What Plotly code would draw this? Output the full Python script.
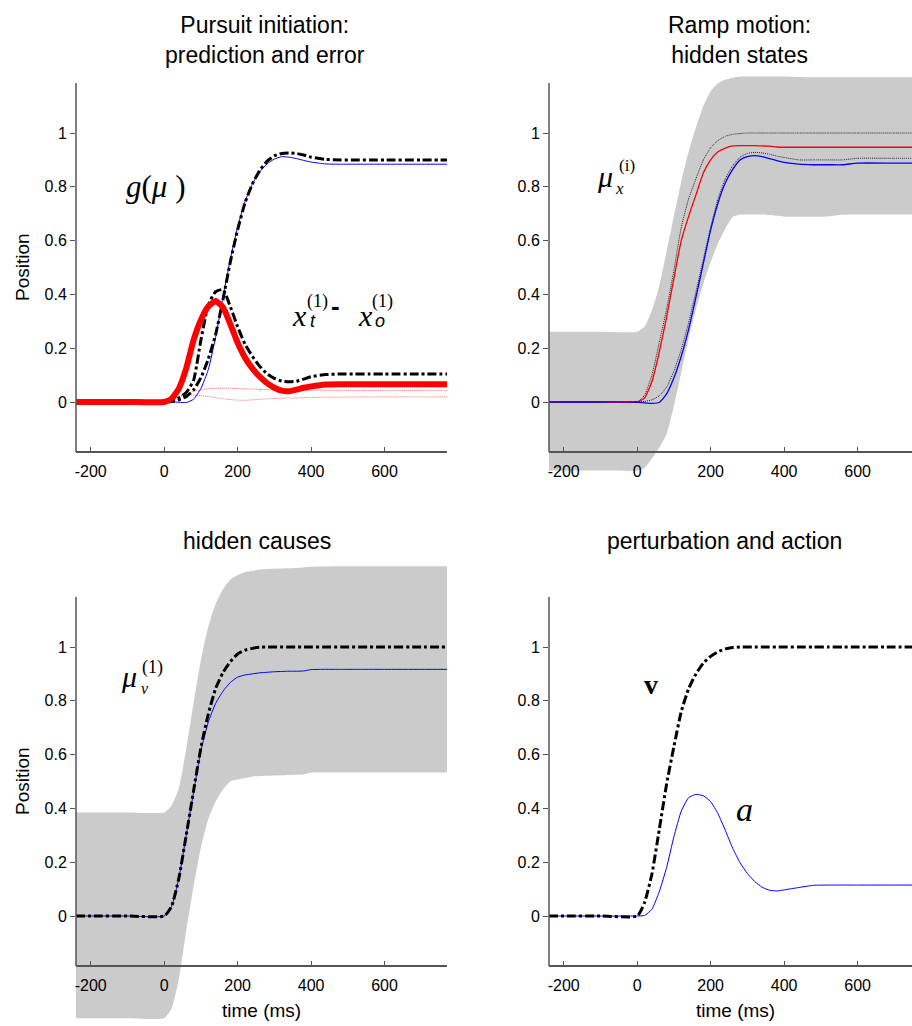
import plotly.graph_objects as go

# ---------------- data (time in ms, values in position units) ----------------
T = [-240, -200, -100, 0, 20, 40, 60, 80, 100, 120, 140, 160, 180, 200, 220, 240,
     260, 280, 300, 320, 340, 360, 380, 400, 440, 480, 520, 560, 600, 700, 770]

# Panel 1: pursuit initiation, prediction and error
p1_pred = [0, 0, 0, 0, 0.002, 0.008, 0.02, 0.045, 0.09, 0.16, 0.25, 0.38, 0.52, 0.64, 0.74, 0.81,
           0.86, 0.895, 0.915, 0.924, 0.926, 0.924, 0.918, 0.91, 0.902, 0.90, 0.90, 0.90, 0.90, 0.90, 0.90]
p1_obs = [0, 0, 0, 0, 0, -0.001, -0.002, 0.01, 0.05, 0.12, 0.24, 0.39, 0.53, 0.65, 0.745, 0.81,
          0.855, 0.885, 0.903, 0.912, 0.91, 0.905, 0.898, 0.892, 0.885, 0.884, 0.884, 0.884, 0.884, 0.884, 0.884]
p1_bump = [0, 0, 0, 0, 0.005, 0.015, 0.035, 0.08, 0.23, 0.36, 0.41, 0.418, 0.355, 0.28, 0.215, 0.17,
           0.133, 0.105, 0.088, 0.078, 0.075, 0.077, 0.085, 0.094, 0.102, 0.104, 0.104, 0.104, 0.104, 0.104, 0.104]
p1_err = [0, 0, 0, 0, 0.012, 0.05, 0.125, 0.23, 0.305, 0.355, 0.375, 0.352, 0.29, 0.22, 0.165, 0.125,
          0.094, 0.07, 0.053, 0.042, 0.04, 0.046, 0.053, 0.058, 0.065, 0.066, 0.066, 0.066, 0.066, 0.066, 0.066]
p1_err_a = [0, 0, 0, 0, 0.008, 0.02, 0.03, 0.04, 0.045, 0.05, 0.051, 0.052, 0.051, 0.05, 0.049, 0.048,
            0.047, 0.046, 0.045, 0.045, 0.045, 0.044, 0.044, 0.044, 0.044, 0.043, 0.043, 0.043, 0.043, 0.043, 0.043]
p1_err_b = [0, 0, 0, 0, 0.01, 0.02, 0.025, 0.026, 0.024, 0.02, 0.016, 0.012, 0.009, 0.007, 0.006, 0.008,
            0.01, 0.012, 0.013, 0.014, 0.015, 0.015, 0.016, 0.017, 0.018, 0.018, 0.019, 0.019, 0.019, 0.019, 0.019]

# Panel 2: ramp motion, hidden states
p2_ci_hi = [0.261, 0.261, 0.261, 0.261, 0.28, 0.34, 0.43, 0.56, 0.69, 0.82, 0.93, 1.02, 1.10, 1.155, 1.185, 1.198,
            1.205, 1.21, 1.21, 1.21, 1.21, 1.21, 1.21, 1.21, 1.208, 1.207, 1.207, 1.207, 1.207, 1.207, 1.207]
p2_ci_lo = [-0.255, -0.255, -0.255, -0.255, -0.245, -0.21, -0.17, -0.12, -0.015, 0.11, 0.235, 0.345, 0.44, 0.52, 0.59, 0.645,
            0.688, 0.697, 0.697, 0.697, 0.697, 0.695, 0.692, 0.689, 0.689, 0.689, 0.69, 0.696, 0.697, 0.697, 0.697]
p2_true_hi = [0, 0, 0, 0, 0.025, 0.10, 0.22, 0.345, 0.49, 0.65, 0.755, 0.83, 0.90, 0.945, 0.972, 0.988,
              0.995, 0.998, 1.0, 1.0, 1.0, 1.0, 1.0, 1.0, 1.0, 1.0, 1.0, 1.0, 1.0, 1.0, 1.0]
p2_red = [0, 0, 0, 0, 0.015, 0.075, 0.185, 0.315, 0.46, 0.6, 0.69, 0.77, 0.851, 0.9, 0.93, 0.944,
          0.952, 0.953, 0.953, 0.953, 0.952, 0.951, 0.948, 0.947, 0.947, 0.947, 0.947, 0.947, 0.947, 0.947, 0.947]
p2_true_lo = [0, 0, 0, 0, 0.002, 0.008, 0.023, 0.055, 0.115, 0.195, 0.295, 0.41, 0.53, 0.65, 0.755, 0.83,
              0.878, 0.91, 0.924, 0.928, 0.926, 0.921, 0.914, 0.909, 0.90, 0.90, 0.90, 0.90, 0.906, 0.906, 0.906]
p2_blue = [0, 0, 0, 0, -0.003, -0.005, -0.002, 0.03, 0.09, 0.17, 0.27, 0.39, 0.515, 0.64, 0.74, 0.815,
           0.865, 0.9, 0.912, 0.916, 0.912, 0.905, 0.897, 0.891, 0.884, 0.882, 0.882, 0.882, 0.888, 0.888, 0.888]

# Panel 3: hidden causes
p3_ci_hi = [0.385, 0.385, 0.385, 0.385, 0.41, 0.475, 0.62, 0.79, 0.95, 1.075, 1.16, 1.215, 1.25, 1.268, 1.278, 1.283,
            1.288, 1.29, 1.291, 1.292, 1.293, 1.294, 1.296, 1.298, 1.299, 1.30, 1.30, 1.30, 1.30, 1.30, 1.30]
p3_ci_lo = [-0.38, -0.38, -0.38, -0.38, -0.345, -0.235, -0.055, 0.11, 0.255, 0.36, 0.425, 0.47, 0.50, 0.507, 0.513, 0.518,
            0.52, 0.521, 0.522, 0.523, 0.524, 0.525, 0.526, 0.533, 0.533, 0.533, 0.533, 0.533, 0.533, 0.533, 0.533]
p3_true = [0, 0, 0, 0, 0.035, 0.14, 0.30, 0.465, 0.625, 0.75, 0.845, 0.905, 0.945, 0.974, 0.988, 0.995,
           0.999, 1.0, 1.0, 1.0, 1.0, 1.0, 1.0, 1.0, 1.0, 1.0, 1.0, 1.0, 1.0, 1.0, 1.0]
p3_est = [0, 0, 0, 0, 0.035, 0.14, 0.30, 0.46, 0.615, 0.72, 0.79, 0.835, 0.868, 0.888, 0.896, 0.90,
          0.904, 0.906, 0.908, 0.909, 0.91, 0.91, 0.911, 0.916, 0.917, 0.917, 0.917, 0.917, 0.917, 0.917, 0.917]

# Panel 4: perturbation and action
p4_v = [0, 0, 0, 0, 0.05, 0.155, 0.32, 0.49, 0.63, 0.76, 0.845, 0.90, 0.94, 0.965, 0.982, 0.993,
        0.998, 1.0, 1.0, 1.0, 1.0, 1.0, 1.0, 1.0, 1.0, 1.0, 1.0, 1.0, 1.0, 1.0, 1.0]
p4_a = [0, 0, 0, 0, 0.002, 0.025, 0.09, 0.18, 0.295, 0.39, 0.44, 0.452, 0.447, 0.425, 0.38, 0.318,
        0.252, 0.198, 0.158, 0.128, 0.107, 0.096, 0.093, 0.097, 0.106, 0.114, 0.115, 0.115, 0.115, 0.115, 0.115]

X_TICKS = [-200, 0, 200, 400, 600]
X_TICKTEXT = ["-200", "0", "200", "400", "600"]
Y_TICKS = [0, 0.2, 0.4, 0.6, 0.8, 1]
Y_TICKTEXT = ["0", "0.2", "0.4", "0.6", "0.8", "1"]

# ---------------- layout geometry (pixels) ----------------
W, H = 912, 1026
UNIT = 269.0  # pixels per position unit


def fx(px):
    return px / W


def fy(py):
    return 1 - py / H


ROWS = {
    "top": dict(zero=402, area=(66, 478), axis=452, ytop=83),
    "bot": dict(zero=916, area=(562, 1024), axis=966, ytop=597),
}
COLS = {
    "left": dict(x0=76, x1=447, xmax=770),
    "right": dict(x0=549, x1=912, xmax=748),
}
PANELS = [("", "top", "left"), ("2", "top", "right"), ("3", "bot", "left"), ("4", "bot", "right")]

AX_COLOR = "#555555"
SANS = "Liberation Sans, Arial, sans-serif"
SERIF = "Liberation Serif, Times New Roman, serif"
GRAY = "#cbcbcb"
TICK_SIZE = 16

fig = go.Figure()
layout = dict(width=W, height=H, margin=dict(l=0, r=0, t=0, b=0),
              paper_bgcolor="white", plot_bgcolor="rgba(0,0,0,0)", showlegend=False)
shapes = []
for sfx, rk, ck in PANELS:
    r, c = ROWS[rk], COLS[ck]
    layout["xaxis" + sfx] = dict(
        domain=[fx(c["x0"]), fx(c["x1"])], range=[-240, c["xmax"]],
        anchor="free", position=fy(r["axis"]),
        showline=True, linecolor=AX_COLOR, linewidth=1.5,
        ticks="inside", ticklen=4, tickcolor=AX_COLOR, tickwidth=1,
        tickvals=X_TICKS, ticktext=X_TICKTEXT, ticklabelstandoff=5,
        tickfont=dict(family=SANS, size=TICK_SIZE, color="black"),
        showgrid=False, zeroline=False, fixedrange=True)
    layout["yaxis" + sfx] = dict(
        domain=[fy(r["area"][1]), fy(r["area"][0])],
        range=[(r["zero"] - r["area"][1]) / UNIT, (r["zero"] - r["area"][0]) / UNIT],
        anchor="x" + sfx, showline=False,
        ticks="outside", ticklen=5, tickcolor=AX_COLOR, tickwidth=1,
        tickvals=Y_TICKS, ticktext=Y_TICKTEXT,
        tickfont=dict(family=SANS, size=TICK_SIZE, color="black"),
        showgrid=False, zeroline=False, fixedrange=True)
    shapes.append(dict(type="line", xref="paper", yref="paper",
                       x0=fx(c["x0"]), x1=fx(c["x0"]), y0=fy(r["axis"]), y1=fy(r["ytop"]),
                       line=dict(color=AX_COLOR, width=1.5), layer="above"))
layout["shapes"] = shapes


def line(y, xa, color, width=1, dash="solid"):
    fig.add_trace(go.Scatter(x=T, y=y, mode="lines", xaxis=xa, yaxis=xa.replace("x", "y"),
                             line=dict(color=color, width=width, dash=dash, shape="spline", smoothing=0.5),
                             hoverinfo="skip"))


def band(lo, hi, xa):
    ya = xa.replace("x", "y")
    fig.add_trace(go.Scatter(x=T, y=lo, mode="lines", xaxis=xa, yaxis=ya,
                             line=dict(width=0, shape="spline", smoothing=0.5), hoverinfo="skip"))
    fig.add_trace(go.Scatter(x=T, y=hi, mode="lines", xaxis=xa, yaxis=ya, fill="tonexty",
                             fillcolor=GRAY, line=dict(width=0, shape="spline", smoothing=0.5),
                             hoverinfo="skip"))


# Panel 1
line(p1_err_a, "x", "rgba(255,60,60,0.75)", 1, "1px,1px")
line(p1_err_b, "x", "rgba(255,60,60,0.75)", 1, "1px,1px")
line(p1_obs, "x", "#0000ff", 1)
line(p1_pred, "x", "black", 3, "dashdot")
line(p1_bump, "x", "black", 3, "dashdot")
line(p1_err, "x", "#ff0000", 6)

# Panel 2
band(p2_ci_lo, p2_ci_hi, "x2")
line(p2_true_hi, "x2", "#222222", 1, "1px,1px")
line(p2_true_lo, "x2", "#222222", 1, "1px,1px")
line(p2_red, "x2", "#ff0000", 1.3)
line(p2_blue, "x2", "#0000ff", 1.3)

# Panel 3
band(p3_ci_lo, p3_ci_hi, "x3")
line(p3_est, "x3", "#0000ff", 1)
line(p3_true, "x3", "black", 3, "dashdot")

# Panel 4
line(p4_a, "x4", "#0000ff", 1)
line(p4_v, "x4", "black", 3, "dashdot")

# ---------------- text ----------------
ann = []


def text(s, px, py, size, family=SANS, angle=0, xanchor="center"):
    ann.append(dict(text=s, x=fx(px), y=fy(py), xref="paper", yref="paper", showarrow=False,
                    xanchor=xanchor, yanchor="middle", textangle=angle,
                    font=dict(family=family, size=size, color="black")))


text("Pursuit initiation:<br>prediction and error", 265, 40, 23)
text("Ramp motion:<br>hidden states", 739, 40, 23)
text("hidden causes", 257, 541, 23)
text("perturbation and action", 724, 541, 23)
text("Position", 22, 267, 19, angle=-90)
text("Position", 22, 781, 19, angle=-90)
text("time (ms)", 261, 1010, 19)
text("time (ms)", 735, 1010, 19)

# g(mu)
text("<i>g</i>(<i>μ</i> )", 155, 186, 31, SERIF)
# x_t^(1) - x_o^(1)
text("<i>x</i>", 299, 315, 30, SERIF)
text("(1)", 317, 301, 18, SERIF)
text("<i>t</i>", 313, 321, 18, SANS)
text("<b>-</b>", 335, 306, 26, SANS)
text("<i>x</i>", 365, 315, 30, SERIF)
text("(1)", 382, 301, 18, SERIF)
text("<i>o</i>", 380, 321, 18, SANS)
# mu_x^(i)
text("<i>μ</i>", 605, 176, 30, SERIF)
text("(i)", 627, 166, 17, SERIF)
text("<i>x</i>", 619, 188, 17, SERIF)
# mu_v^(1)
text("<i>μ</i>", 129, 676, 30, SERIF)
text("(1)", 152, 667, 18, SERIF)
text("<i>v</i>", 145, 688, 16, SERIF)
# v and a
text("<b>v</b>", 651, 684, 28, SERIF)
text("<i>a</i>", 744, 809, 34, SERIF)

layout["annotations"] = ann
fig.update_layout(**layout)
fig.write_html("out.html", config={"displayModeBar": False},
               post_script="document.body.style.margin='0px';")
